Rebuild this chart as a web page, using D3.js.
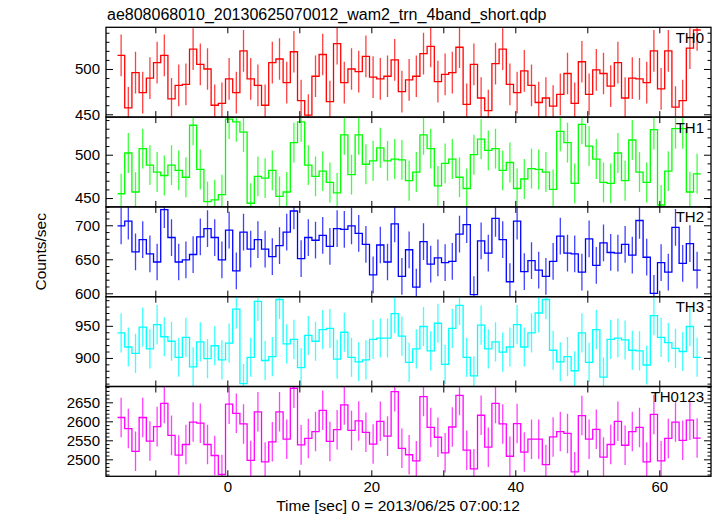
<!DOCTYPE html>
<html><head><meta charset="utf-8">
<script src="https://cdn.jsdelivr.net/npm/d3@7"></script>
<style>body{margin:0;background:#fff}svg{display:block}text{font-family:"Liberation Sans",Arial,Helvetica,sans-serif;fill:#000}</style>
</head><body><svg id="c" width="717" height="516"></svg>
<script>
const titleText = "ae808068010_20130625070012_wam2_trn_4band_short.qdp";
const xLabel = "Time [sec] 0 = 2013/06/25 07:00:12";
const yLabel = "Counts/sec";
const panelNames = ["TH0", "TH1", "TH2", "TH3", "TH0123"];
const panelColors = ["#ff0000", "#00ff00", "#0000ff", "#00ffff", "#ff00ff"];
const firstBinStart = -15.25;
const binWidth = 1;

const th0 = [515,457,496,474,490,507,515,467,482,483, 522,505,500,460,462,489,474,520,489,482, 460,507,511,485,519,465,449,492,516,464, 528,485,500,497,514,491,489,492,510,475, 488,492,517,525,486,494,496,524,461,505, 468,454,506,522,483,474,498,482,463,468, 459,472,495,462,508,472,499,495,481,507, 468,490,489,485,520,478,520,458,465,523, 543];
const th1 = [455,502,457,507,488,480,476,488,482,474, 534,483,446,448,454,541,538,526,444,475, 473,482,452,457,514,538,488,475,481,468, 456,523,477,523,489,493,508,493,495,494, 470,480,523,507,464,490,495,474,461,500, 518,505,507,482,491,461,472,484,483,480, 460,527,514,467,535,510,495,468,467,502, 470,517,480,468,529,442,481,530,530,457, 478];
const th2 = [699,706,661,679,658,646,723,682,646,649, 657,683,695,682,649,693,633,690,665,679, 665,654,670,690,721,651,682,678,685,669, 695,694,699,688,672,627,671,646,702,625, 664,609,676,643,652,645,647,687,701,598, 677,659,710,679,617,706,632,648,634,625, 647,684,659,658,631,680,641,674,660,659, 672,656,707,653,600,645,631,697,644,673, 634];
const th3 = [939,917,907,948,914,952,933,926,901,932, 886,925,899,919,897,923,976,860,901,988, 896,902,991,922,929,885,935,926,944,946, 898,940,901,894,897,929,931,931,969,934, 893,914,949,911,954,890,946,982,901,872, 951,914,925,909,917,952,917,939,970,991, 912,894,902,880,939,893,944,870,929,931, 928,912,911,889,966,932,924,915,910,949, 901];
const th0123 = [2610,2581,2521,2610,2548,2586,2647,2563,2511,2539, 2598,2595,2539,2510,2460,2645,2621,2593,2497,2625, 2493,2546,2625,2553,2687,2538,2555,2573,2629,2547, 2578,2643,2576,2601,2571,2540,2600,2561,2678,2529, 2512,2496,2665,2584,2558,2517,2585,2668,2524,2475, 2616,2532,2647,2593,2508,2594,2519,2553,2553,2486, 2559,2573,2568,2467,2615,2553,2579,2506,2539,2600, 2537,2573,2584,2493,2618,2496,2555,2598,2550,2603, 2556];
const series = [th0, th1, th2, th3, th0123];
const errors = [23, 23, 27, 30.5, 52];
const yDomains = [[446.9, 546], [439.8, 543.4], [595, 727], [855.5, 995.4], [2455.3, 2691.6]];
const yMajorTicks = [[450, 500], [450, 500], [600, 650, 700], [900, 950], [2500, 2550, 2600, 2650]];
const yMinorStep = 10;
const xTickLabels = [0, 20, 40, 60];
const xTickStep = 10;
const xDomain = [-16.85, 67.18];

(function draw() {
  const plotL = 106, plotR = 711, plotT = 27.3, plotB = 476.3;
  const nP = series.length;
  const pH = (plotB - plotT) / nP;

  const svg = d3.select("#c");
  const x = d3.scaleLinear().domain(xDomain).range([plotL, plotR]);
  const xTickVals = d3.range(Math.ceil(xDomain[0] / xTickStep) * xTickStep, xDomain[1], xTickStep);
  const defs = svg.append("defs");

  series.forEach((vals, p) => {
    const pTop = plotT + p * pH, pBot = pTop + pH;
    const y = d3.scaleLinear().domain(yDomains[p]).range([pBot, pTop]);
    const col = panelColors[p];
    const g = svg.append("g");
    defs.append("clipPath").attr("id", "clip" + p)
      .append("rect").attr("x", plotL).attr("y", pTop).attr("width", plotR - plotL).attr("height", pH);
    const dg = g.append("g").attr("clip-path", "url(#clip" + p + ")");

    dg.selectAll("line.err").data(vals).join("line").attr("class", "err")
      .attr("x1", (d, i) => x(firstBinStart + (i + 0.5) * binWidth))
      .attr("x2", (d, i) => x(firstBinStart + (i + 0.5) * binWidth))
      .attr("y1", d => y(d - errors[p]))
      .attr("y2", d => y(d + errors[p]))
      .attr("stroke", col).attr("stroke-width", 1.3).attr("stroke-opacity", 0.75);

    const pts = [];
    vals.forEach((v, i) => {
      pts.push([firstBinStart + i * binWidth, v]);
      pts.push([firstBinStart + (i + 1) * binWidth, v]);
    });
    dg.append("path").datum(pts)
      .attr("d", d3.line().x(d => x(d[0])).y(d => y(d[1])))
      .attr("fill", "none").attr("stroke", col).attr("stroke-width", 1.3);

    const minor = d3.range(Math.ceil(yDomains[p][0] / yMinorStep) * yMinorStep, yDomains[p][1], yMinorStep)
      .filter(v => !yMajorTicks[p].includes(v));
    const axL = g.append("g").attr("transform", `translate(${plotL},0)`)
      .call(d3.axisLeft(y).tickValues(yMajorTicks[p]).tickSize(-7).tickPadding(6).tickFormat(d3.format("d")));
    axL.select(".domain").remove();
    axL.selectAll("text").attr("font-size", 15).attr("font-family", null);
    const axLm = g.append("g").attr("transform", `translate(${plotL},0)`)
      .call(d3.axisLeft(y).tickValues(minor).tickSize(-3.5).tickFormat(""));
    axLm.select(".domain").remove();
    const axR = g.append("g").attr("transform", `translate(${plotR},0)`)
      .call(d3.axisRight(y).tickValues(yMajorTicks[p]).tickSize(-7).tickFormat(""));
    axR.select(".domain").remove();
    const axRm = g.append("g").attr("transform", `translate(${plotR},0)`)
      .call(d3.axisRight(y).tickValues(minor).tickSize(-3.5).tickFormat(""));
    axRm.select(".domain").remove();

    const axT = g.append("g").attr("transform", `translate(0,${pTop})`)
      .call(d3.axisBottom(x).tickValues(xTickVals).tickSize(6).tickFormat(""));
    axT.select(".domain").remove();
    const axB = g.append("g").attr("transform", `translate(0,${pBot})`)
      .call(d3.axisBottom(x).tickValues(xTickVals).tickSize(-6).tickPadding(5)
        .tickFormat(d => (p === nP - 1 && xTickLabels.includes(d)) ? d : ""));
    axB.select(".domain").remove();
    axB.selectAll("text").attr("font-size", 15).attr("font-family", null);

    g.selectAll(".tick line").attr("stroke", "#000").attr("stroke-width", 1);

    g.append("rect").attr("x", plotL).attr("y", pTop).attr("width", plotR - plotL).attr("height", pH)
      .attr("fill", "none").attr("stroke", "#000").attr("stroke-width", 1.3);

    g.append("text").attr("x", 704).attr("y", pTop + 15.5).attr("text-anchor", "end")
      .attr("font-size", 15).text(panelNames[p]);
  });

  svg.append("text").attr("x", 107).attr("y", 20).attr("font-size", 16).text(titleText);
  svg.append("text").attr("transform", `translate(46,${(plotT + plotB) / 2}) rotate(-90)`)
    .attr("text-anchor", "middle").attr("font-size", 15.5).text(yLabel);
  svg.append("text").attr("x", 398).attr("y", 511).attr("text-anchor", "middle")
    .attr("font-size", 15.5).text(xLabel);
})();
</script></body></html>
